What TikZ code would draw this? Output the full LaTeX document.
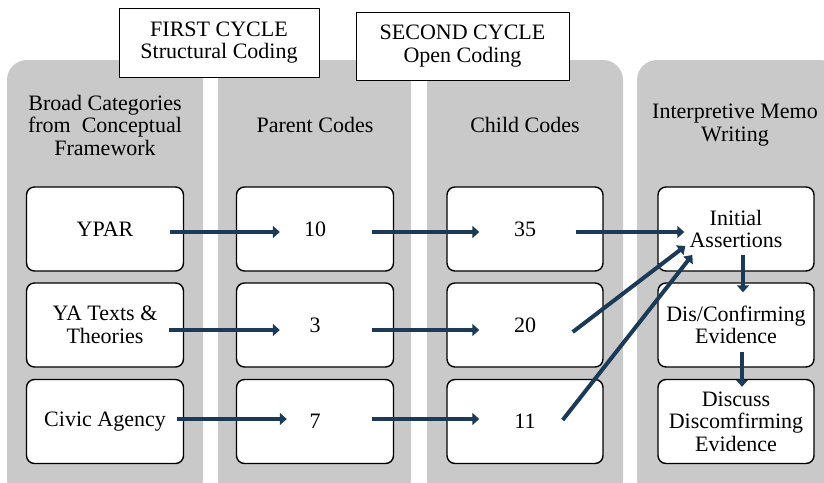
\documentclass[tikz,border=0pt]{standalone}
\usepackage{fontspec}
\setmainfont{Liberation Serif}
\usetikzlibrary{arrows.meta,calc}

\begin{document}
\begin{tikzpicture}
  [x=1pt,y=-1pt,line join=round,
   font=\fontsize{22}{22.5}\selectfont,
   % Styles
   panel/.style={fill=panelgray,rounded corners=20pt},
   cycle box/.style={draw=black,fill=white,line width=0.8pt,align=center,
     minimum width=200pt,minimum height=69pt,inner sep=0pt},
   heading/.style={align=center},
   code box/.style={draw=black,fill=white,line width=1.4pt,rounded corners=8pt,
     align=center,minimum width=157pt,minimum height=84pt,inner sep=0pt},
   flow/.style={draw=arrowcolor,line width=4pt,
     -{Triangle[length=7pt,width=12pt]}}]

  % Colors
  \definecolor{panelgray}{HTML}{C9C9C9}
  \definecolor{arrowcolor}{HTML}{1B3A57}

  \useasboundingbox (0,0) rectangle (824,482);
  \clip (0,0) rectangle (824,482);

  % The panels
  \fill[panel] (7,60) rectangle (203,500);
  \fill[panel] (218,60) rectangle (411,500);
  \fill[panel] (427,60) rectangle (623,500);
  \fill[panel] (637,60) rectangle (840,500);

  % Cycles
  \node[cycle box] (first) at (219,42.5) {FIRST CYCLE\\Structural Coding};
  \node[cycle box,minimum width=213pt,minimum height=68pt] (second) at (462.5,46)
    {SECOND CYCLE\\Open Coding};

  % Headings
  \node[heading] (broad) at (105,125) {Broad Categories\\from\ \ Conceptual\\Framework};
  \node[heading] (parent) at (315,125) {Parent Codes};
  \node[heading] (child) at (525,125) {Child Codes};
  \node[heading] (memo) at (735,125) {Interpretive Memo\\Writing};

  % Codes
  \node[code box] (ypar) at (105,229) {YPAR};
  \node[code box] (yatexts) at (105,325) {YA Texts \&\\Theories};
  \node[code box] (civic) at (105,421.5) {Civic Agency};

  \node[code box] (ten) at (315,229) {10};
  \node[code box] (three) at (315,325) {3};
  \node[code box] (seven) at (315,421.5) {7};

  \node[code box,minimum width=156pt] (thirtyfive) at (525,229) {35};
  \node[code box,minimum width=156pt] (twenty) at (525,325) {20};
  \node[code box,minimum width=156pt] (eleven) at (525,421.5) {11};

  \node[code box,minimum width=156pt] (initial) at (736,229) {Initial\\Assertions};
  \node[code box,minimum width=156pt] (disconf) at (736,325) {Dis/Confirming\\Evidence};
  \node[code box,minimum width=156pt] (discuss) at (736,421.5)
    {Discuss\\Discomfirming\\Evidence};

  % Arrows
  \draw[flow] ($(ypar.east)+(-14,3)$) -- ($(ten.west)+(44,3)$);
  \draw[flow] ($(ten.east)+(-22,3)$) -- ($(thirtyfive.west)+(33,3)$);
  \draw[flow] ($(thirtyfive.east)+(-28,3)$) -- ($(initial.west)+(27,3)$);

  \draw[flow] ($(yatexts.east)+(-15,5)$) -- ($(three.west)+(44,5)$);
  \draw[flow] ($(three.east)+(-22,5)$) -- ($(twenty.west)+(33,5)$);
  \draw[flow] ($(twenty.east)+(-31,7)$) -- ($(initial.west)+(28,17)$);

  \draw[flow] ($(civic.east)+(-7,-2.5)$) -- ($(seven.west)+(51,-2.5)$);
  \draw[flow] ($(seven.east)+(-22,-2.5)$) -- ($(eleven.west)+(33,-2.5)$);
  \draw[flow] ($(eleven.east)+(-41,-1.5)$) -- ($(initial.west)+(35,26)$);

  \draw[flow] ($(initial.south)+(7,-17)$) -- ($(disconf.north)+(7,10)$);
  \draw[flow] ($(disconf.south)+(6,-16)$) -- ($(discuss.north)+(6,8)$);
\end{tikzpicture}
\end{document}
